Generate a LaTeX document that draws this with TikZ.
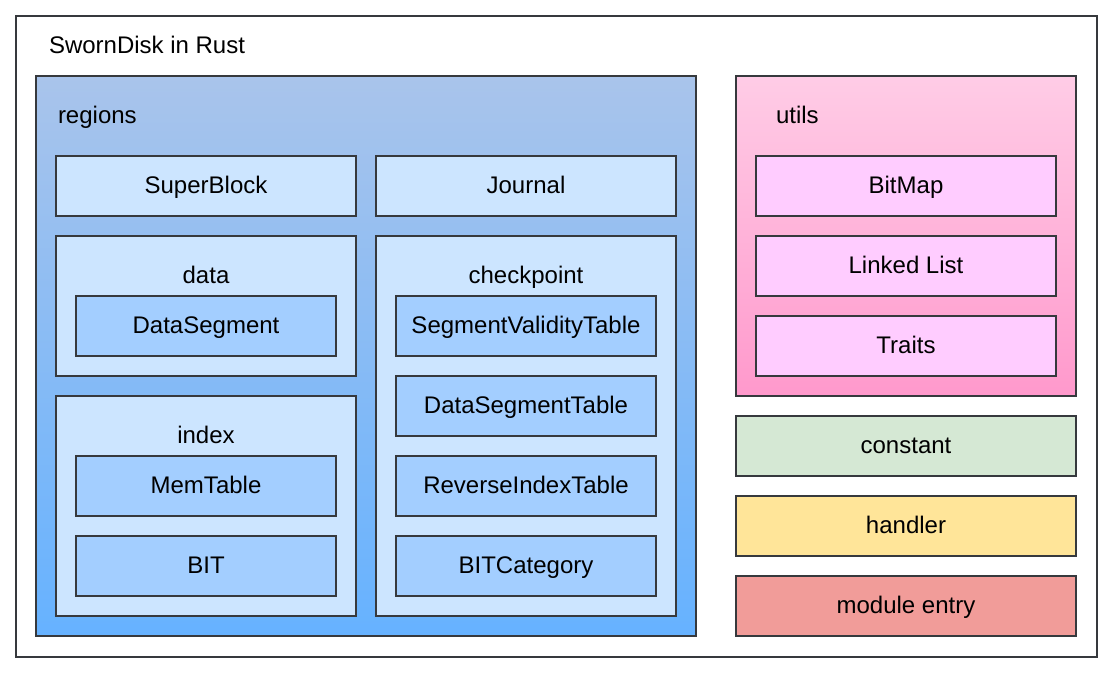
\documentclass[tikz,border=0pt]{standalone}
\usepackage{fontspec}
\setmainfont{Liberation Sans}
\usepackage{xcolor}
\usetikzlibrary{positioning}

\definecolor{edge}{HTML}{36393D}
\definecolor{regtop}{HTML}{A9C4EB}
\definecolor{regbot}{HTML}{66B2FF}
\definecolor{lightblue}{HTML}{CCE5FF}
\definecolor{midblue}{HTML}{A3CEFF}
\definecolor{utiltop}{HTML}{FFCCE6}
\definecolor{utilbot}{HTML}{FF99CC}
\definecolor{lightpink}{HTML}{FFCCFF}
\definecolor{green}{HTML}{D5E8D4}
\definecolor{yellow}{HTML}{FFE599}
\definecolor{red}{HTML}{F19C99}

\begin{document}
\begin{tikzpicture}[x=0.5pt,y=-0.5pt,line width=1pt,
  font=\fontsize{12}{14}\selectfont,
  txt/.style={inner sep=0pt,text height=0.716em,text depth=0pt},
  box/.style={txt,draw=edge,rectangle},
  wide/.style={box,minimum width=150pt,minimum height=30pt},
  slim/.style={box,minimum width=130pt,minimum height=30pt}]
  \useasboundingbox (0,0) rectangle (1114,674);

  % outer frame and containers
  \node[box,fill=white,minimum width=540.5pt,minimum height=320.5pt] (all) at (556.5,336.5) {};
  \node[box,top color=regtop,bottom color=regbot,minimum width=330pt,minimum height=280pt] (reg) at (366,356) {};
  \node[box,top color=utiltop,bottom color=utilbot,minimum width=170pt,minimum height=160pt] (utl) at (906,236) {};
  \node[box,fill=lightblue,minimum width=150pt,minimum height=70pt]  (dat) at (206,306) {};
  \node[box,fill=lightblue,minimum width=150pt,minimum height=110pt] (idx) at (206,506) {};
  \node[box,fill=lightblue,minimum width=150pt,minimum height=190pt] (chk) at (526,426) {};

  % titles
  \node[txt,anchor=west] (t1) at (48,46)   {SwornDisk in Rust};
  \node[txt,anchor=west] (t2) at (57,116)  {regions};
  \node[txt,anchor=west] (t3) at (775,116) {utils};
  \node[txt]             (t4) at (206,276) {data};
  \node[txt]             (t5) at (206,436) {index};
  \node[txt]             (t6) at (526,276) {checkpoint};

  % regions
  \node[wide,fill=lightblue] (sb)  at (206,186) {SuperBlock};
  \node[wide,fill=lightblue] (jn)  at (526,186) {Journal};
  \node[slim,fill=midblue]   (ds)  at (206,326) {DataSegment};
  \node[slim,fill=midblue]   (mt)  at (206,486) {MemTable};
  \node[slim,fill=midblue]   (bit) at (206,566) {BIT};
  \node[slim,fill=midblue]   (svt) at (526,326) {SegmentValidityTable};
  \node[slim,fill=midblue]   (dst) at (526,406) {DataSegmentTable};
  \node[slim,fill=midblue]   (rit) at (526,486) {ReverseIndexTable};
  \node[slim,fill=midblue]   (bc)  at (526,566) {BITCategory};

  % utils and the rest
  \node[wide,fill=lightpink] (bm)  at (906,186) {BitMap};
  \node[wide,fill=lightpink] (ll)  at (906,266) {Linked List};
  \node[wide,fill=lightpink] (tr)  at (906,346) {Traits};
  \node[box,fill=green,minimum width=170pt,minimum height=30pt]  (cst) at (906,446) {constant};
  \node[box,fill=yellow,minimum width=170pt,minimum height=30pt] (hdl) at (906,526) {handler};
  \node[box,fill=red,minimum width=170pt,minimum height=30pt]    (me)  at (906,606) {module entry};
\end{tikzpicture}
\end{document}
